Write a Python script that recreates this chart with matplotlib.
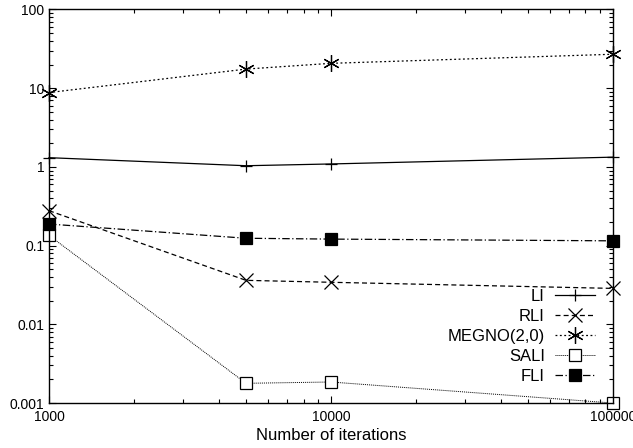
import matplotlib
matplotlib.use("Agg")
from matplotlib import pyplot as plt
from matplotlib.ticker import LogLocator, NullFormatter, FixedLocator, FixedFormatter

plt.rcParams['font.family'] = ['Liberation Sans', 'DejaVu Sans']

iterations = [1000, 5000, 10000, 100000]
li = [1.31, 1.035, 1.09, 1.33]
rli = [0.278, 0.0362, 0.0342, 0.0286]
megno = [8.8, 17.5, 20.7, 27.0]
sali = [0.135, 0.00178, 0.00185, 0.001]
fli = [0.188, 0.124, 0.121, 0.115]

fig = plt.figure(figsize=(6.33, 4.48), dpi=100)
ax = fig.add_axes([0.0774, 0.1004, 0.8906, 0.8784])

ax.plot(iterations, li, color="black", lw=0.9, ls="-", marker="+", ms=9, mew=0.9, label="LI", clip_on=False)
ax.plot(iterations, rli, color="black", lw=0.9, ls=(0, (4, 2.5)), marker="x", ms=9.5, mew=0.9, label="RLI", clip_on=False)
ax.plot(iterations, megno, color="black", lw=0.9, ls=(0, (1.5, 2)), marker=(6, 2, 0), ms=12, mew=0.9, label="MEGNO(2,0)", clip_on=False)
ax.plot(iterations, sali, color="black", lw=0.7, ls=(0, (1, 1)), marker="s", ms=8.5, mfc="white", mew=0.9, label="SALI", clip_on=False)
ax.plot(iterations, fli, color="black", lw=0.9, ls=(0, (6, 2, 1, 2)), marker="s", ms=8.5, mfc="black", mew=0.9, label="FLI", clip_on=False)

ax.set_xscale("log")
ax.set_yscale("log")
ax.set_xlim(1000, 100000)
ax.set_ylim(0.001, 100)

ax.xaxis.set_major_locator(FixedLocator([1000, 10000, 100000]))
ax.xaxis.set_major_formatter(FixedFormatter(["1000", "10000", "100000"]))
ax.xaxis.set_minor_locator(LogLocator(base=10, subs=range(2, 10)))
ax.xaxis.set_minor_formatter(NullFormatter())
ax.yaxis.set_major_locator(FixedLocator([0.001, 0.01, 0.1, 1, 10, 100]))
ax.yaxis.set_major_formatter(FixedFormatter(["0.001", "0.01", "0.1", "1", "10", "100"]))
ax.yaxis.set_minor_locator(LogLocator(base=10, subs=range(2, 10)))
ax.yaxis.set_minor_formatter(NullFormatter())

ax.tick_params(which="both", direction="in", top=True, right=True, labelsize=10, width=0.8)
ax.tick_params(axis="x", pad=5)
ax.tick_params(which="major", length=5)
ax.tick_params(which="minor", length=3)
for s in ax.spines.values():
    s.set_linewidth(1.0)

ax.set_xlabel("Number of iterations", fontsize=12, labelpad=3)

ax.legend(loc="lower right", frameon=False, markerfirst=False, fontsize=12,
          handlelength=2.4, handletextpad=0.6, labelspacing=0.3,
          borderpad=0, bbox_to_anchor=(0.983, 0.028))

fig.savefig("out.png", dpi=100)
